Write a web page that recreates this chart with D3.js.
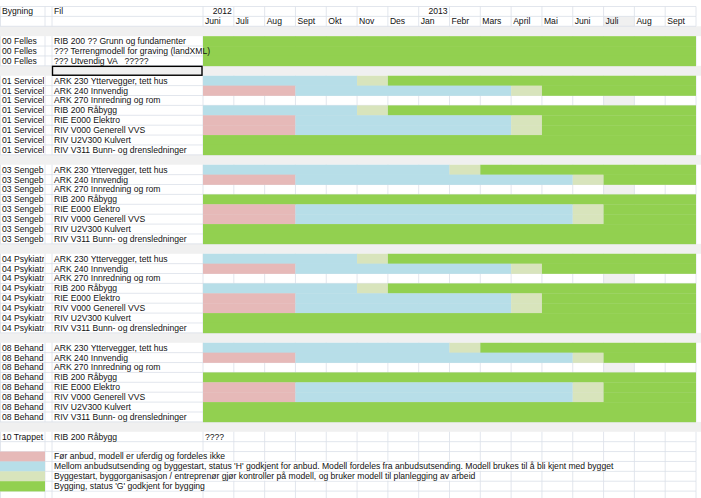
<!DOCTYPE html>
<html><head><meta charset="utf-8">
<script src="https://cdn.jsdelivr.net/npm/d3@7"></script>
<style>body{margin:0;background:#fff}svg{display:block}text{white-space:pre}</style>
</head><body>
<script>
// ---------- DATA ----------
const months = ["Juni","Juli","Aug","Sept","Okt","Nov","Des","Jan","Febr","Mars","April","Mai","Juni","Juli","Aug","Sept"];
const yearLabels = ["2012","2013"];
const yearMonthIndex = [0, 7];
const fellesBuilding = "00 Felles";
const fellesFiles = ["RIB 200 ?? Grunn og fundamenter","??? Terrengmodell for graving (landXML)","??? Utvendig VA   ?????"];
const groups = ["01 Servicel","03 Sengeb","04 Psykiatr","08 Behand"];
const files = ["ARK 230 Yttervegger, tett hus","ARK 240 Innvendig","ARK 270 Innredning og rom","RIB 200 Råbygg","RIE E000 Elektro","RIV V000 Generell VVS","RIV U2V300 Kulvert","RIV V311 Bunn- og drensledninger"];
// months spent in each phase (from Juni 2012); remaining months are "Bygging". null = no plan
const pinkMonths = [
  [0,3,null,0,3,3,0,0],
  [0,3,null,0,3,3,0,0],
  [0,3,null,0,3,3,0,0],
  [0,3,null,0,3,3,0,0]];
const blueMonths = [
  [5,7,null,5,7,7,0,0],
  [8,9,null,0,9,9,0,0],
  [5,7,null,5,7,7,0,0],
  [8,9,null,0,9,9,0,0]];
const reviewMonths = [
  [1,1,null,1,1,1,0,0],
  [1,1,null,0,1,1,0,0],
  [1,1,null,1,1,1,0,0],
  [1,1,null,0,1,1,0,0]];
const trappetBuilding = "10 Trappet";
const trappetFile = "RIB 200 Råbygg";
const trappetNote = "????";
const headerLabels = ["Bygning","Fil"];
const legendLabels = [
  "Før anbud, modell er uferdig og fordeles ikke",
  "Mellom anbudsutsending og byggestart, status 'H' godkjent for anbud. Modell fordeles fra anbudsutsending. Modell brukes til å bli kjent med bygget",
  "Byggestart, byggorganisasjon / entreprenør gjør kontroller på modell, og bruker modell til planlegging av arbeid",
  "Bygging, status 'G' godkjent for bygging"];

// ---------- STYLE ----------
const phaseColors = ["#e6b9b8","#b7dee8","#d8e4bc","#92d050"];
const gridColor = "#dadfe8";
const grayFill = "#f0f0f0";
const FONT = "'Liberation Sans', Arial, sans-serif";
const FS = 8.6;
const W = 701, H = 498;

// ---------- LAYOUT ROWS ----------
const rows = [];
rows.push({type:"header"});
rows.push({type:"months"});
rows.push({type:"gap"});
fellesFiles.forEach(f => rows.push({type:"data", a:fellesBuilding, c:f, phases:[0,0,0]}));
rows.push({type:"gap", selected:true});
groups.forEach((g, gi) => {
  files.forEach((f, fi) => {
    const p = pinkMonths[gi][fi];
    rows.push({type:"data", a:g, c:f, phases: p === null ? null : [p, blueMonths[gi][fi], reviewMonths[gi][fi]], julyGray:true});
  });
  rows.push({type:"gap"});
});
rows.push({type:"data", a:trappetBuilding, c:trappetFile, phases:null, note:trappetNote});
rows.push({type:"empty"});
legendLabels.forEach((l, i) => rows.push({type:"legend", idx:i, c:l}));
rows.push({type:"empty"});

const rowH = 9.89, gridTop = 6.5;
const y = d3.scaleBand().domain(d3.range(rows.length)).range([gridTop, gridTop + rows.length*rowH]).paddingInner(0);
const x = d3.scaleBand().domain(d3.range(months.length)).range([203, 696]).paddingInner(0);
const colA = [0, 45], colB = [45, 52], colC = [52, 203];
const julyCol = 13;

const svg = d3.select("body").append("svg").attr("width", W).attr("height", H)
  .style("font-family", FONT).style("font-size", FS + "px");
svg.append("rect").attr("width", W).attr("height", H).attr("fill", "#fff");
svg.append("defs").append("clipPath").attr("id","clipA").append("rect")
  .attr("x", 0).attr("y", 0).attr("width", colA[1]-1).attr("height", H);

const bg = svg.append("g"), grid = svg.append("g"), bars = svg.append("g"), txt = svg.append("g").attr("fill", "#111");

const colEdges = [colA[0]+0.5, colB[0], colC[0], ...d3.range(months.length).map(i => x(i)), x.range()[1]];

rows.forEach((r, i) => {
  const y0 = y(i), h = y.bandwidth();
  if (r.type === "gap") {
    bg.append("rect").attr("x", 0).attr("y", y0).attr("width", W).attr("height", h).attr("fill", grayFill);
    if (r.selected) {
      txt.append("rect").attr("x", colC[0]+0.5).attr("y", y0+0.5).attr("width", colC[1]-colC[0]-1.5).attr("height", h-1)
        .attr("fill", "none").attr("stroke", "#000").attr("stroke-width", 1.4);
    }
    return;
  }
  if ((r.type === "months" || r.julyGray) && !r.phases) {
    bg.append("rect").attr("x", x(julyCol)).attr("y", y0).attr("width", x.bandwidth()).attr("height", h).attr("fill", grayFill);
  }
  grid.append("line").attr("x1", 0).attr("x2", x.range()[1]).attr("y1", y0+h).attr("y2", y0+h)
    .attr("stroke", gridColor).attr("stroke-width", 0.8);
  if (i === 0) grid.append("line").attr("x1", 0).attr("x2", x.range()[1]).attr("y1", y0).attr("y2", y0)
    .attr("stroke", gridColor).attr("stroke-width", 0.8);
  colEdges.forEach(e => grid.append("line").attr("x1", e).attr("x2", e).attr("y1", y0).attr("y2", y0+h)
    .attr("stroke", gridColor).attr("stroke-width", 0.8));

  const ty = y0 + h - 2;
  if (r.type === "header") {
    txt.append("text").attr("x", 2).attr("y", ty).text(headerLabels[0]);
    txt.append("text").attr("x", colC[0]+2).attr("y", ty).text(headerLabels[1]);
    yearLabels.forEach((yl, k) => txt.append("text").attr("x", x(yearMonthIndex[k]) + x.bandwidth() - 2)
      .attr("y", ty).attr("text-anchor", "end").text(yl));
  } else if (r.type === "months") {
    months.forEach((m, k) => txt.append("text").attr("x", x(k) + 2).attr("y", ty).text(m));
  } else if (r.type === "data") {
    if (r.phases) {
      const [p, b, v] = r.phases;
      const segs = [[0, p], [p, p+b], [p+b, p+b+v], [p+b+v, months.length]];
      segs.forEach((s, k) => {
        if (s[1] > s[0]) bars.append("rect").attr("x", x(s[0])).attr("y", y0)
          .attr("width", x(s[1]-1) + x.bandwidth() - x(s[0])).attr("height", h + 0.3).attr("fill", phaseColors[k]);
      });
    }
    txt.append("text").attr("x", 2).attr("y", ty).attr("clip-path", "url(#clipA)").text(r.a);
    txt.append("text").attr("x", colC[0]+2).attr("y", ty).text(r.c);
    if (r.note) txt.append("text").attr("x", x(0)+2).attr("y", ty).text(r.note);
  } else if (r.type === "legend") {
    bars.append("rect").attr("x", 0).attr("y", y0).attr("width", colA[1]).attr("height", h + 0.3).attr("fill", phaseColors[r.idx]);
    const t = txt.append("text").attr("x", colC[0]+2).attr("y", ty).text(r.c);
    const len = t.node().getComputedTextLength();
    txt.insert("rect", "text").attr("x", colC[0]+1).attr("y", y0+0.6).attr("width", len + 2).attr("height", h-1.2).attr("fill", "#fff");
  }
});
</script>
</body></html>
